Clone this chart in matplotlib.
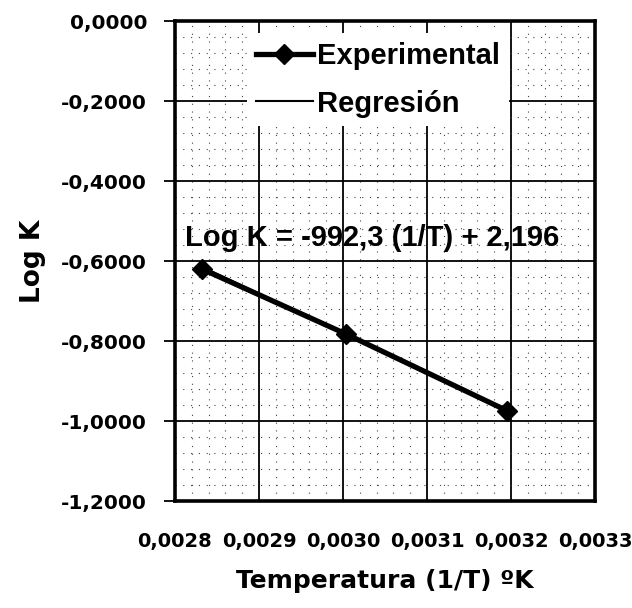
import matplotlib
matplotlib.use("Agg")
import matplotlib.pyplot as plt
from matplotlib.ticker import MultipleLocator
import numpy as np

# Data
inv_T = [0.002832, 0.003003, 0.003195]
log_k = [-0.620, -0.782, -0.974]
slope = -992.3
intercept = 2.196
equation = "Log K = -992,3 (1/T) + 2,196"

x_ticks = [0.0028, 0.0029, 0.0030, 0.0031, 0.0032, 0.0033]
x_tick_labels = ["0,0028", "0,0029", "0,0030", "0,0031", "0,0032", "0,0033"]
y_ticks = [0.0, -0.2, -0.4, -0.6, -0.8, -1.0, -1.2]
y_tick_labels = ["0,0000", "-0,2000", "-0,4000", "-0,6000", "-0,8000", "-1,0000", "-1,2000"]

fig = plt.figure(figsize=(6.32, 6.08), dpi=100)
ax = fig.add_axes([175/632, 1-501/608, 420/632, 480/608])

ax.set_xlim(0.0028, 0.0033)
ax.set_ylim(-1.2, 0.0)

# grids
ax.xaxis.set_minor_locator(MultipleLocator(0.00002))
ax.yaxis.set_minor_locator(MultipleLocator(0.04))
ax.grid(which='major', color='black', linewidth=1.3, linestyle='-')
ax.grid(which='minor', color='#444444', linewidth=0.8, linestyle=(0, (1, 6)))
ax.set_axisbelow(True)

# regression line
reg_x = np.array([inv_T[0], inv_T[-1]])
reg_y = slope * reg_x + intercept
ax.plot(reg_x, reg_y, color='black', linewidth=1.5, label='Regresión', zorder=3)
ax.plot(inv_T, log_k, color='black', linewidth=3.8, marker='D', markersize=10,
        label='Experimental', zorder=4)

ax.set_xticks(x_ticks)
ax.set_xticklabels(x_tick_labels, fontsize=14, fontweight='bold', family='DejaVu Sans')
ax.set_yticks(y_ticks)
ax.set_yticklabels(y_tick_labels, fontsize=14.5, fontweight='bold', family='DejaVu Sans')
ax.tick_params(axis='x', which='both', length=0, pad=22)
ax.tick_params(axis='y', which='major', length=8, width=1.3, pad=12, direction='out')
ax.tick_params(axis='y', which='minor', length=0)

for s in ax.spines.values():
    s.set_linewidth(2.6)
    s.set_color('black')

ax.set_xlabel("Temperatura (1/T) ºK", fontsize=18, fontweight='bold', family='DejaVu Sans', labelpad=13)
ax.set_ylabel("Log K", fontsize=19, fontweight='bold', family='DejaVu Sans', labelpad=11)

ax.text(10/420, 1-217/480, equation, transform=ax.transAxes, ha='left', va='center',
        fontsize=21, fontweight='bold', family='Liberation Sans', zorder=5)

handles, labels = ax.get_legend_handles_labels()
order = [1, 0]
leg = ax.legend([handles[i] for i in order], [labels[i] for i in order],
                loc='upper left', bbox_to_anchor=((247-175)/420, 1-12/480),
                frameon=True, facecolor='white', edgecolor='none', framealpha=1,
                prop={'family': 'Liberation Sans', 'weight': 'bold', 'size': 21},
                handlelength=1.95, handletextpad=0.15, labelspacing=0.68,
                borderpad=0.3, borderaxespad=0, fancybox=False)
leg.set_zorder(6)

fig.savefig("out.png", dpi=100, facecolor='white')
